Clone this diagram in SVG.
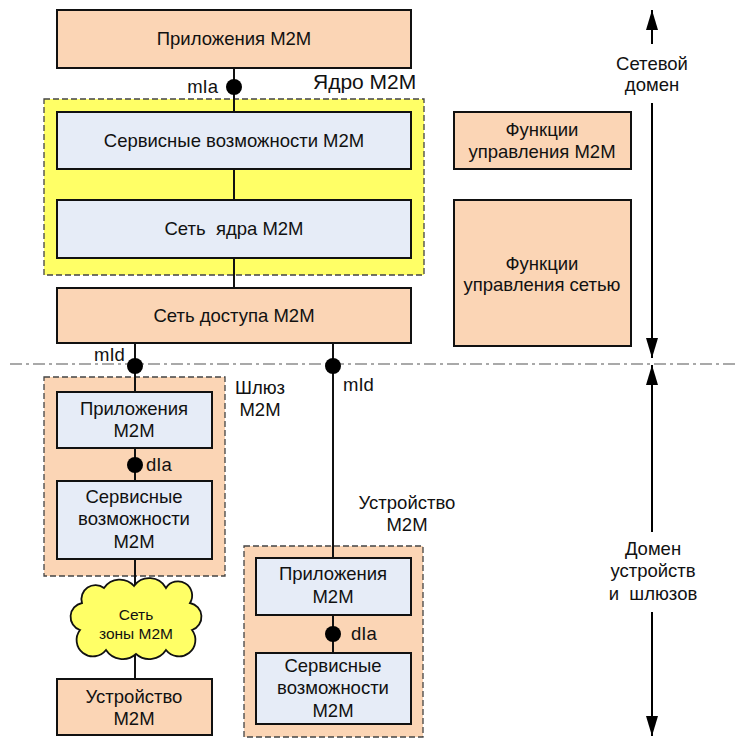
<svg xmlns="http://www.w3.org/2000/svg" width="735" height="738" viewBox="0 0 735 738">
<defs>
<style>
text{font-family:"Liberation Sans",Arial,sans-serif;font-size:18.5px;fill:#111;white-space:pre;}
.m{text-anchor:middle;}
.peach{fill:#FBD5B5;stroke:#111;stroke-width:2;}
.blue{fill:#E6ECF7;stroke:#111;stroke-width:2;}
.cont{stroke:#444;stroke-width:1.3;stroke-dasharray:6 3;}
.ln{stroke:#111;stroke-width:2;fill:none;}
.dot{fill:#000;}
.sep{stroke:#555;stroke-width:1.2;stroke-dasharray:12 4 3 4;fill:none;}
.arr{stroke:#000;stroke-width:2;fill:none;marker-end:url(#ah);}
</style>
<marker id="ah" markerUnits="userSpaceOnUse" markerWidth="20" markerHeight="12" refX="20" refY="6" orient="auto">
<path d="M0,0 L20,6 L0,12 z" fill="#000"/>
</marker>
</defs>
<rect width="735" height="738" fill="#fff"/>

<g id="core-container">
<rect x="44" y="99" width="380" height="176" fill="#FFFF66" class="cont"/>
<text x="313" y="89" style="font-size:21px">Ядро M2M</text>
</g>
<g id="gateway-container">
<rect x="44" y="377" width="181" height="199" fill="#FBD5B5" class="cont"/>
<text class="m" x="260" y="394">Шлюз</text>
<text class="m" x="260" y="416">M2M</text>
</g>
<g id="device-container">
<rect x="244" y="546" width="179" height="191" fill="#FBD5B5" class="cont"/>
<text class="m" x="407" y="509">Устройство</text>
<text class="m" x="407" y="531">M2M</text>
</g>

<g id="connectors">
<line class="sep" x1="10" y1="364" x2="735" y2="364"/>
<line class="ln" x1="234" y1="68" x2="234" y2="288"/>
<line class="ln" x1="135" y1="343" x2="135" y2="392"/>
<line class="ln" x1="135" y1="448" x2="135" y2="481"/>
<line class="ln" x1="135" y1="559" x2="135" y2="590"/>
<line class="ln" x1="135" y1="650" x2="135" y2="679"/>
<line class="ln" x1="333" y1="343" x2="333" y2="558"/>
<line class="ln" x1="333" y1="615" x2="333" y2="653"/>
<circle class="dot" cx="234" cy="87" r="8"/>
<text x="218" y="93" style="text-anchor:end">mIa</text>
<circle class="dot" cx="135" cy="366" r="8"/>
<text x="94" y="361">mId</text>
<circle class="dot" cx="333" cy="366" r="8"/>
<text x="343" y="391">mId</text>
<circle class="dot" cx="135" cy="465" r="8"/>
<text x="146" y="471">dIa</text>
<circle class="dot" cx="333" cy="634" r="8"/>
<text x="351" y="640">dIa</text>
<line class="arr" x1="652" y1="44" x2="652" y2="10"/>
<line class="arr" x1="652" y1="103" x2="652" y2="358"/>
<line class="arr" x1="652" y1="532" x2="652" y2="365"/>
<line class="arr" x1="652" y1="612" x2="652" y2="736"/>
</g>

<g id="network-domain-label">
<text class="m" x="652" y="70">Сетевой</text>
<text class="m" x="652" y="91">домен</text>
</g>
<g id="device-domain-label">
<text class="m" x="653" y="555">Домен</text>
<text class="m" x="653" y="577">устройств</text>
<text class="m" x="653" y="600">и  шлюзов</text>
</g>

<g id="apps">
<rect class="peach" x="57" y="10" width="354" height="58"/>
<text class="m" x="234" y="45">Приложения M2M</text>
</g>
<g id="core-service">
<rect class="blue" x="57" y="112" width="354" height="57"/>
<text class="m" x="234" y="147">Сервисные возможности M2M</text>
</g>
<g id="core-network">
<rect class="blue" x="57" y="200" width="354" height="58"/>
<text class="m" x="234" y="235">Сеть  ядра M2M</text>
</g>
<g id="access-network">
<rect class="peach" x="57" y="288" width="354" height="55"/>
<text class="m" x="234" y="322">Сеть доступа M2M</text>
</g>
<g id="mgmt-m2m">
<rect class="peach" x="454" y="112" width="177" height="57"/>
<text class="m" x="542" y="136">Функции</text>
<text class="m" x="542" y="158">управления M2M</text>
</g>
<g id="mgmt-network">
<rect class="peach" x="454" y="200" width="177" height="146"/>
<text class="m" x="542" y="270">Функции</text>
<text class="m" x="542" y="291">управления сетью</text>
</g>
<g id="gw-apps">
<rect class="blue" x="57" y="392" width="155" height="56"/>
<text class="m" x="134" y="415">Приложения</text>
<text class="m" x="134" y="437">M2M</text>
</g>
<g id="gw-service">
<rect class="blue" x="57" y="481" width="155" height="78"/>
<text class="m" x="134" y="503">Сервисные</text>
<text class="m" x="134" y="525">возможности</text>
<text class="m" x="134" y="548">M2M</text>
</g>
<g id="area-network">
<path d="M80,630 A14,14 0 0 1 82,603 A14,14 0 0 1 104,588 A19,19 0 0 1 134,586 A19,19 0 0 1 166,588 A14,14 0 0 1 190,603 A14,14 0 0 1 192,630 A15,15 0 0 1 166,650 A20,20 0 0 1 136,654 A20,20 0 0 1 106,650 A15,15 0 0 1 80,630 Z" fill="#FFFF66" stroke="#111" stroke-width="1.8"/>
<text class="m" x="136" y="620" style="font-size:15.5px">Сеть</text>
<text class="m" x="136" y="639" style="font-size:15.5px">зоны M2M</text>
</g>
<g id="end-device">
<rect class="peach" x="57" y="679" width="155" height="56"/>
<text class="m" x="134" y="703">Устройство</text>
<text class="m" x="134" y="725">M2M</text>
</g>
<g id="dev-apps">
<rect class="blue" x="256" y="558" width="155" height="57"/>
<text class="m" x="333" y="580">Приложения</text>
<text class="m" x="333" y="603">M2M</text>
</g>
<g id="dev-service">
<rect class="blue" x="256" y="653" width="155" height="71"/>
<text class="m" x="333" y="672">Сервисные</text>
<text class="m" x="333" y="694">возможности</text>
<text class="m" x="333" y="717">M2M</text>
</g>
</svg>
